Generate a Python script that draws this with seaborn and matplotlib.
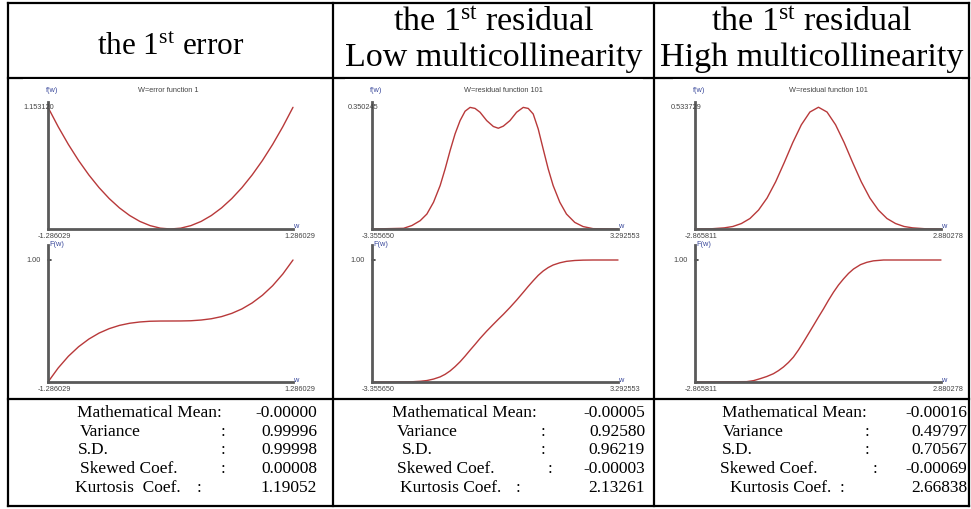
import numpy as np
import pandas as pd
import matplotlib
matplotlib.use("Agg")
import matplotlib.pyplot as plt
from matplotlib.lines import Line2D
from matplotlib.patches import Rectangle
import seaborn as sns

# ---------------- data ----------------
headers = [["the 1$^{\\mathrm{st}}$ error"],
           ["the 1$^{\\mathrm{st}}$ residual", "Low multicollinearity"],
           ["the 1$^{\\mathrm{st}}$ residual", "High multicollinearity"]]
plot_titles = ["W=error function 1", "W=residual function 101", "W=residual function 101"]
x_min_labels = ["-1.286029", "-3.355650", "-2.865811"]
x_max_labels = ["1.286029", "3.292553", "2.880278"]
x_mins = [-1.286029, -3.355650, -2.865811]
x_maxs = [1.286029, 3.292553, 2.880278]
pdf_max_labels = ["1.153120", "0.350245", "0.533729"]
pdf_peaks = [1.153120, 0.350245, 0.533729]
cdf_top_label = "1.00"

# column 1: density and distribution of the error
w1 = [-1.286, -1.179, -1.072, -0.965, -0.857, -0.750, -0.643, -0.536, -0.429, -0.322, -0.214, -0.107, 0.0,
      0.107, 0.214, 0.322, 0.429, 0.536, 0.643, 0.750, 0.857, 0.965, 1.072, 1.179, 1.286]
f1 = [1.153, 0.969, 0.801, 0.649, 0.512, 0.392, 0.288, 0.200, 0.128, 0.072, 0.032, 0.008, 0.0,
      0.008, 0.032, 0.072, 0.128, 0.200, 0.288, 0.392, 0.512, 0.649, 0.801, 0.969, 1.153]
F1 = [0.0, 0.115, 0.211, 0.289, 0.352, 0.401, 0.4375, 0.464, 0.4815, 0.492, 0.498, 0.4997, 0.5,
      0.5003, 0.502, 0.508, 0.5185, 0.536, 0.5625, 0.599, 0.648, 0.711, 0.789, 0.885, 1.0]

# column 2: residual, low multicollinearity
w2 = [-3.356, -2.502, -2.277, -2.053, -1.873, -1.693, -1.514, -1.379, -1.244, -1.110, -0.975, -0.840,
      -0.705, -0.571, -0.436, -0.256, -0.076, 0.058, 0.193, 0.373, 0.552, 0.732, 0.867, 1.001,
      1.136, 1.271, 1.406, 1.540, 1.720, 1.900, 2.124, 2.349, 2.619, 3.293]
f2 = [0.0, 0.002, 0.010, 0.024, 0.043, 0.077, 0.125, 0.173, 0.226, 0.274, 0.312, 0.339,
      0.350, 0.347, 0.336, 0.312, 0.295, 0.290, 0.296, 0.312, 0.336, 0.350, 0.347, 0.331,
      0.288, 0.230, 0.173, 0.125, 0.077, 0.043, 0.019, 0.007, 0.001, 0.0]
F2 = [0.0, 0.001, 0.002, 0.006, 0.012, 0.024, 0.042, 0.063, 0.091, 0.126, 0.166, 0.212,
      0.261, 0.308, 0.357, 0.417, 0.473, 0.514, 0.554, 0.611, 0.671, 0.735, 0.784, 0.830,
      0.874, 0.910, 0.938, 0.959, 0.977, 0.989, 0.996, 0.999, 1.0, 1.0]

# column 3: residual, high multicollinearity
w3 = [-2.866, -2.482, -2.182, -1.982, -1.782, -1.582, -1.382, -1.182, -0.982, -0.782, -0.582, -0.382,
      -0.182, 0.018, 0.218, 0.418, 0.618, 0.818, 1.018, 1.218, 1.418, 1.618, 1.818, 2.018, 2.218, 2.518, 2.880]
f3 = [0.0, 0.001, 0.005, 0.011, 0.024, 0.046, 0.083, 0.136, 0.207, 0.291, 0.379, 0.457,
      0.513, 0.534, 0.513, 0.457, 0.379, 0.291, 0.207, 0.136, 0.083, 0.046, 0.024, 0.011, 0.005, 0.001, 0.0]
w3c = [-2.866, -1.658, -1.500, -1.346, -1.190, -1.034, -0.917, -0.800, -0.683, -0.567, -0.450, -0.333,
       -0.216, -0.099, 0.018, 0.135, 0.252, 0.369, 0.486, 0.603, 0.720, 0.836, 1.000, 1.148, 1.300,
       1.538, 2.880]
F3 = [0.0, 0.003, 0.011, 0.027, 0.045, 0.068, 0.093, 0.123, 0.160, 0.204, 0.262, 0.327,
      0.395, 0.463, 0.532, 0.599, 0.670, 0.736, 0.795, 0.845, 0.890, 0.926, 0.962, 0.981, 0.993,
      1.0, 1.0]

pdf_w = [w1, w2, w3]
pdf_f = [f1, f2, f3]
cdf_w = [w1, w2, w3c]
cdf_F = [F1, F2, F3]

stat_names = [["Mathematical Mean:", "Variance", "S.D.", "Skewed Coef.", "Kurtosis  Coef."],
              ["Mathematical Mean:", "Variance", "S.D.", "Skewed Coef.", "Kurtosis Coef."],
              ["Mathematical Mean:", "Variance", "S.D.", "Skewed Coef.", "Kurtosis Coef."]]
stat_values = [["-0.00000", "0.99996", "0.99998", "0.00008", "1.19052"],
               ["-0.00005", "0.92580", "0.96219", "-0.00003", "2.13261"],
               ["-0.00016", "0.49797", "0.70567", "-0.00069", "2.66838"]]

# ---------------- layout (pixels) ----------------
W, H = 971, 510
sns.set_theme(style="white")
plt.rcParams['font.family'] = ['Liberation Sans', 'DejaVu Sans']
plt.rcParams['mathtext.fontset'] = 'custom'
plt.rcParams['mathtext.rm'] = 'Liberation Serif'
plt.rcParams['mathtext.it'] = 'Liberation Serif:italic'

fig = plt.figure(figsize=(W / 100, H / 100), dpi=100)
fig.patch.set_facecolor('white')

def fx(x):
    return x / W

def fy(y):
    return 1 - y / H

def hline(x0, x1, y, lw=1.6):
    fig.add_artist(Line2D([fx(x0), fx(x1)], [fy(y), fy(y)], transform=fig.transFigure,
                          color='black', lw=lw, zorder=-3, solid_capstyle='projecting'))

def vline(x, y0, y1, lw=1.6):
    fig.add_artist(Line2D([fx(x), fx(x)], [fy(y0), fy(y1)], transform=fig.transFigure,
                          color='black', lw=lw, zorder=-3, solid_capstyle='projecting'))

L, R, T, B = 8, 969, 4, 507
divs = [333, 654]
hdr_y, stat_y = 79, 400
for x in [L] + divs + [R]:
    vline(x, T, B)
for y in [T, hdr_y, stat_y, B]:
    hline(L, R, y)

# white "picture" backgrounds covering the header line
pics = [(23, 320), (345, 643), (673, 962)]
for (a, b) in pics:
    fig.add_artist(Rectangle((fx(a), fy(398)), fx(b) - fx(a), fy(80) - fy(398),
                             transform=fig.transFigure, facecolor='white', edgecolor='none', zorder=-2))

# headers
col_centers = [170.5, 493.5, 811.5]
serif = ['Liberation Serif', 'DejaVu Serif']
hdr_baselines = [[55], [31, 66], [31, 66]]
hdr_sizes = [22.5, 24.5, 24.5]
for c in range(3):
    for line, yb in zip(headers[c], hdr_baselines[c]):
        fig.text(fx(col_centers[c]), fy(yb), line, ha='center', va='baseline',
                 fontsize=hdr_sizes[c], family=serif, color='black')

# plot panels
yaxis_x = [48, 372, 695]
xaxis_end = [293, 618, 941]
title_x = [168, 503, 828]
pdf_top, pdf_bot, peak_y = 103, 230, 108.3
cdf_top, cdf_bot, one_y = 246, 383, 261
axis_col = '#5a5a5a'
curve_col = '#b8393a'
lab_col = '#444444'
blue = '#3b4a9c'
small = 5.3

def make_axes(x0, x1, top, bot):
    ax = fig.add_axes([fx(x0), fy(bot), fx(x1) - fx(x0), fy(top) - fy(bot)])
    ax.patch.set_alpha(0)
    for s in ['top', 'right']:
        ax.spines[s].set_visible(False)
    for s in ['left', 'bottom']:
        ax.spines[s].set_visible(True)
        ax.spines[s].set_color(axis_col)
        ax.spines[s].set_linewidth(2.0)
    ax.grid(False)
    return ax

for c in range(3):
    # density
    ax = make_axes(yaxis_x[c], xaxis_end[c], pdf_top, pdf_bot)
    ymax = pdf_peaks[c] * (pdf_bot - pdf_top) / (pdf_bot - peak_y)
    df = pd.DataFrame({'w': pdf_w[c], 'f': pdf_f[c]})
    sns.lineplot(data=df, x='w', y='f', ax=ax, color=curve_col, lw=1.0, estimator=None, sort=False)
    ax.set_xlim(x_mins[c], x_maxs[c])
    ax.set_ylim(0, ymax)
    ax.set_xticks([]); ax.set_yticks([])
    ax.set_xlabel(''); ax.set_ylabel('')
    for ln in ax.lines:
        ln.set_clip_on(False)

    # distribution
    ax2 = make_axes(yaxis_x[c], xaxis_end[c], cdf_top, cdf_bot)
    ymax2 = (cdf_bot - cdf_top) / (cdf_bot - one_y)
    dfc = pd.DataFrame({'w': cdf_w[c], 'F': cdf_F[c]})
    sns.lineplot(data=dfc, x='w', y='F', ax=ax2, color=curve_col, lw=1.0, estimator=None, sort=False)
    ax2.set_xlim(x_mins[c], x_maxs[c])
    ax2.set_ylim(0, ymax2)
    ax2.set_xticks([]); ax2.set_yticks([])
    ax2.set_xlabel(''); ax2.set_ylabel('')
    for ln in ax2.lines:
        ln.set_clip_on(False)
    # small tick at 1.00
    ax2.plot([x_mins[c], x_mins[c] + (x_maxs[c] - x_mins[c]) * 0.012], [1.0, 1.0],
             color='#333333', lw=1.2, clip_on=False)

    yx = yaxis_x[c]; xe = xaxis_end[c]
    # texts for density
    fig.text(fx(yx + 4), fy(91), 'f(w)', ha='center', va='center', fontsize=small, color=blue)
    fig.text(fx(title_x[c]), fy(91), plot_titles[c], ha='center', va='center', fontsize=small, color=lab_col)
    fig.text(fx(yx - 9), fy(107.5), pdf_max_labels[c], ha='center', va='center', fontsize=small, color=lab_col)
    fig.text(fx(xe + 3), fy(226.5), 'w', ha='center', va='center', fontsize=small, color=blue)
    fig.text(fx(yx + 6), fy(237), x_min_labels[c], ha='center', va='center', fontsize=small, color=lab_col)
    fig.text(fx(xe + 7), fy(237), x_max_labels[c], ha='center', va='center', fontsize=small, color=lab_col)
    # texts for distribution
    fig.text(fx(yx + 1), fy(245), 'F(w)', ha='left', va='center', fontsize=small, color=blue)
    fig.text(fx(yx - 14), fy(260.5), cdf_top_label, ha='center', va='center', fontsize=small, color=lab_col)
    fig.text(fx(xe + 3), fy(380.5), 'w', ha='center', va='center', fontsize=small, color=blue)
    fig.text(fx(yx + 6), fy(390), x_min_labels[c], ha='center', va='center', fontsize=small, color=lab_col)
    fig.text(fx(xe + 7), fy(390), x_max_labels[c], ha='center', va='center', fontsize=small, color=lab_col)

# statistics rows
row_base = [416.7, 435.7, 454.2, 472.7, 491.7]
name_x = [[77, 80, 78, 80, 75], [392, 397, 402, 397, 400], [722, 723, 722, 720, 730]]
colon_x = [[None, 223, 223, 223, 199], [None, 543, 543, 550, 518], [None, 867, 867, 875, 842]]
value_r = [317, 645, 967]
for c in range(3):
    for r in range(5):
        fig.text(fx(name_x[c][r]), fy(row_base[r]), stat_names[c][r], ha='left', va='baseline',
                 fontsize=12.5, family=serif, color='black')
        if colon_x[c][r] is not None:
            fig.text(fx(colon_x[c][r]), fy(row_base[r]), ':', ha='center', va='baseline',
                     fontsize=12.5, family=serif, color='black')
        fig.text(fx(value_r[c]), fy(row_base[r]), stat_values[c][r], ha='right', va='baseline',
                 fontsize=12.5, family=serif, color='black')

fig.savefig('out.png', dpi=100, facecolor='white')
